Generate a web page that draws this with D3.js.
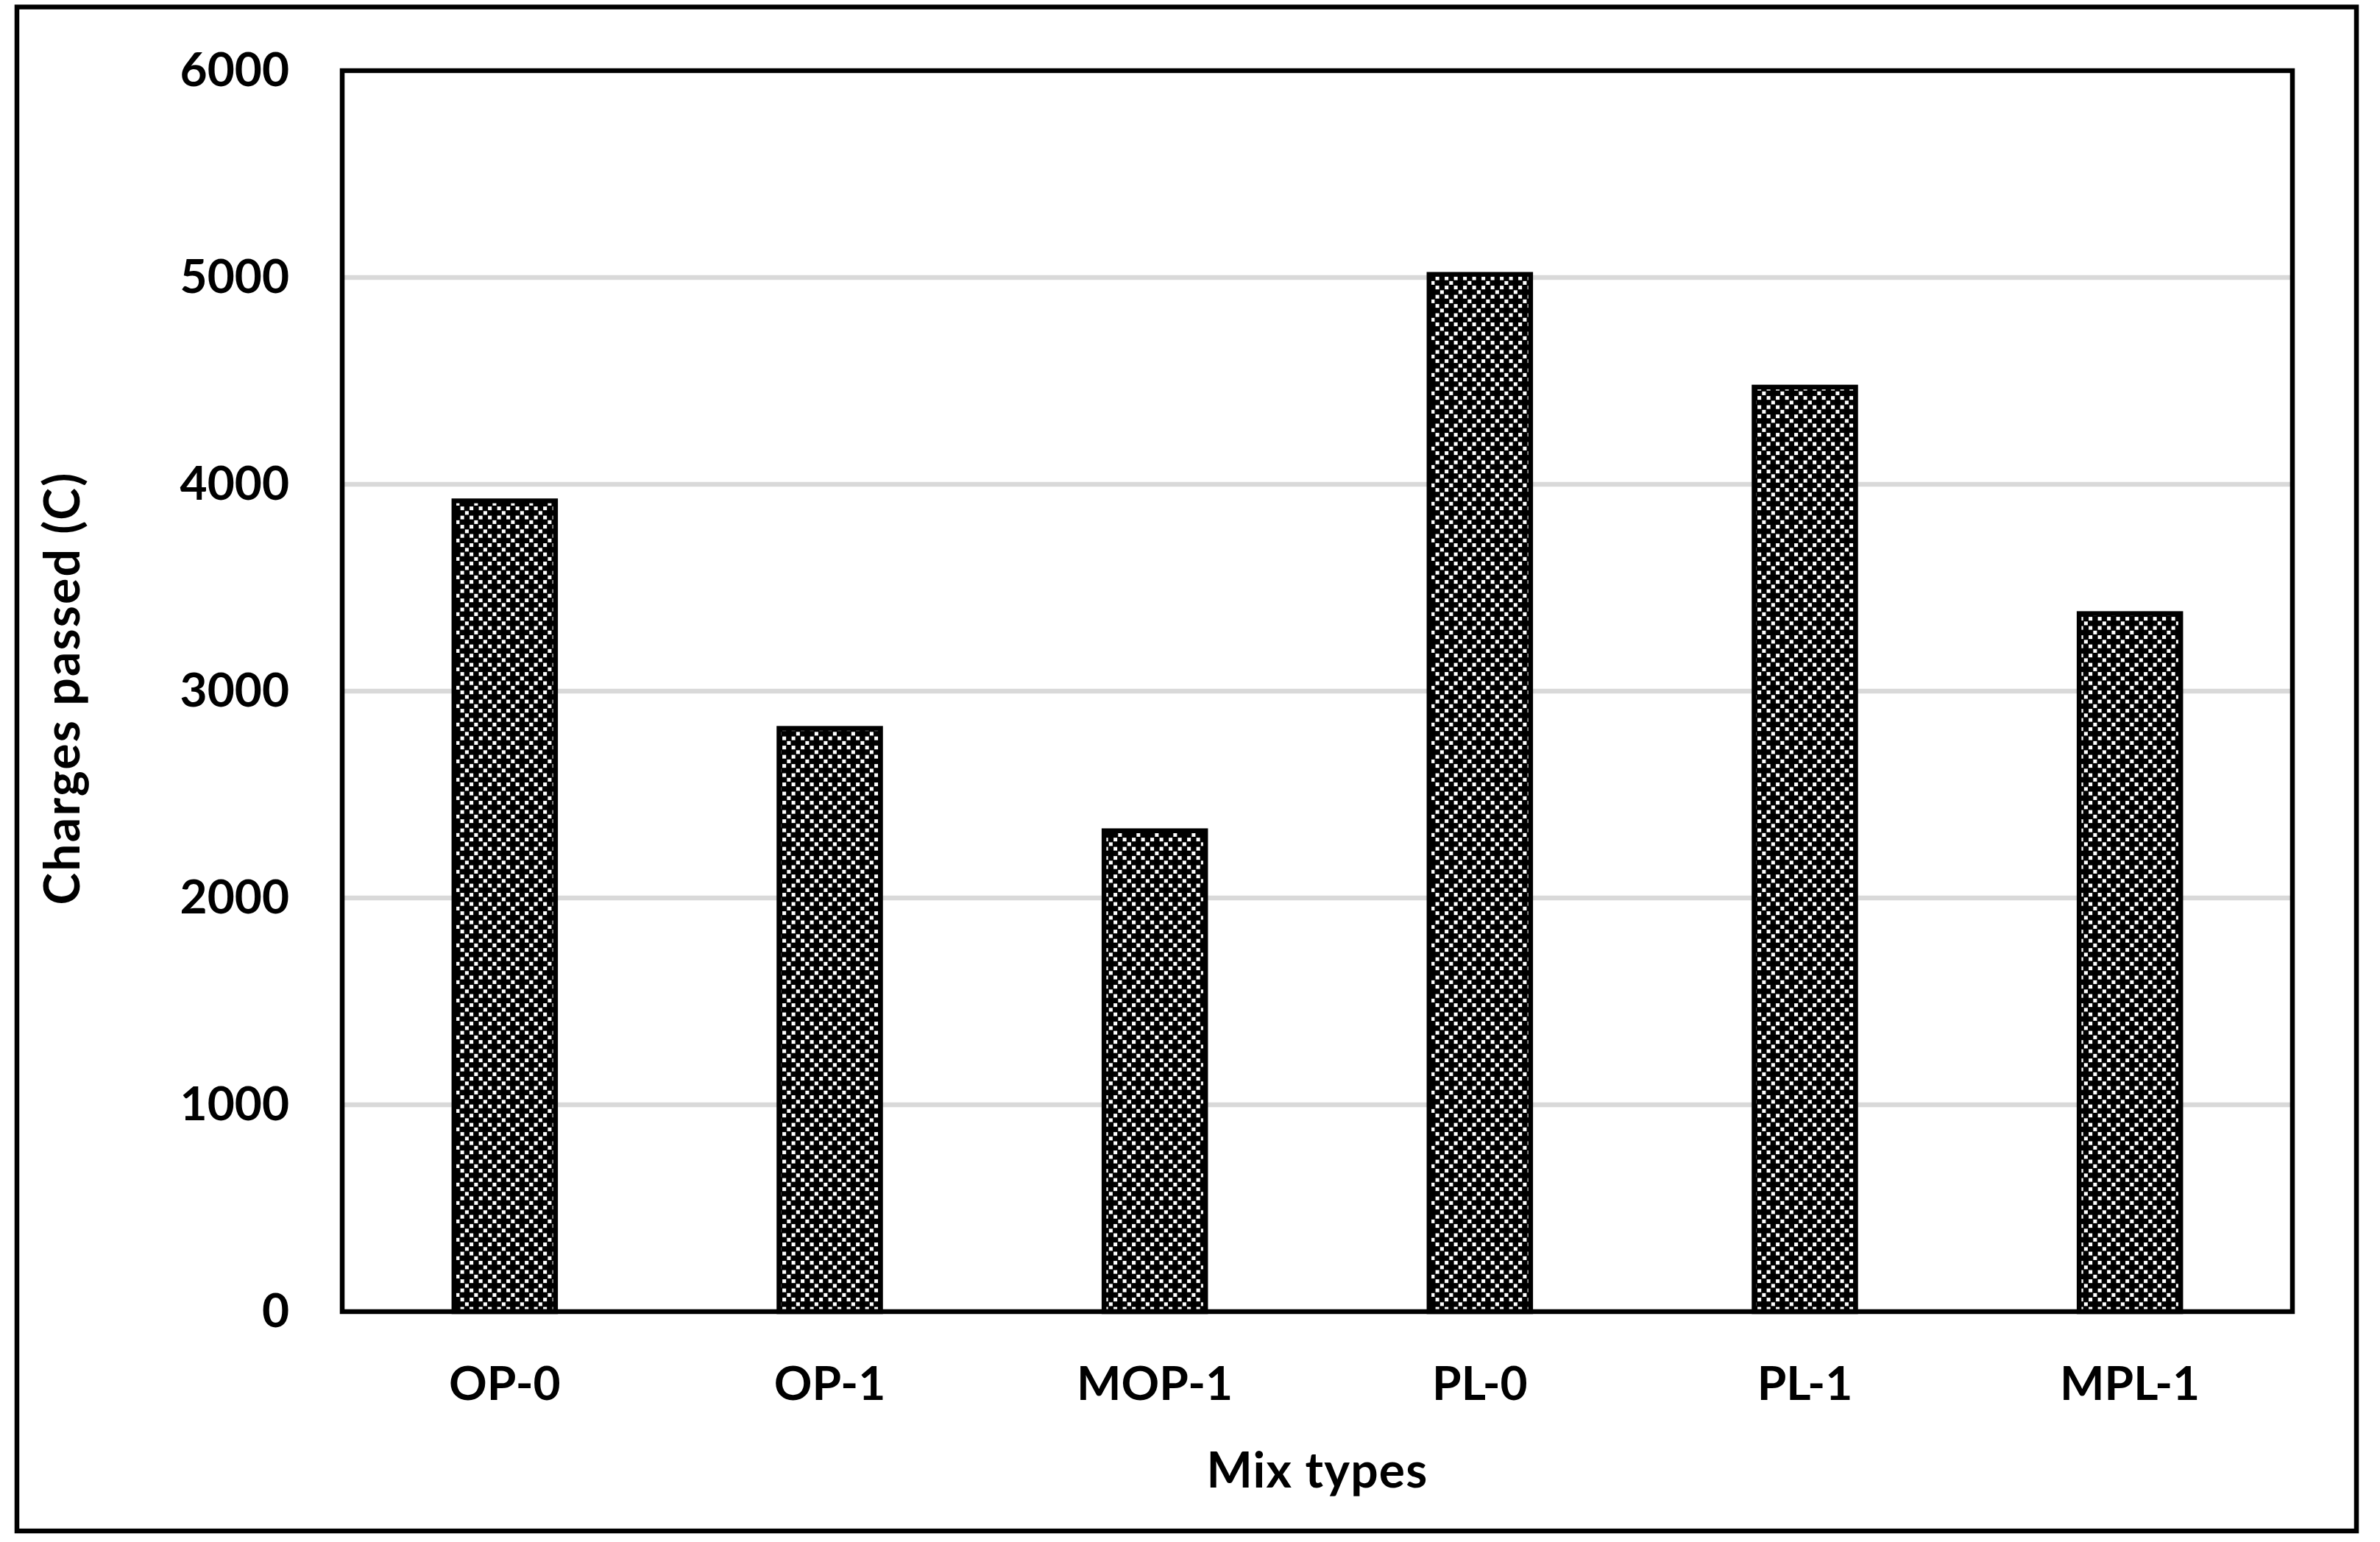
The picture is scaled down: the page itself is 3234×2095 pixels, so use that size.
<!DOCTYPE html>
<html>
<head>
<meta charset="utf-8">
<script src="https://cdn.jsdelivr.net/npm/d3@7"></script>
<style>
  html, body { margin: 0; padding: 0; background: #fff; }
  svg { display: block; }
  text { font-family: Lato, "Open Sans", sans-serif; font-weight: bold; fill: #000; }
</style>
</head>
<body>
<script>
const categories = ["OP-0", "OP-1", "MOP-1", "PL-0", "PL-1", "MPL-1"];
const values = [3920, 2820, 2325, 5015, 4470, 3375];
const yTicks = [0, 1000, 2000, 3000, 4000, 5000, 6000];
const xTitle = "Mix types";
const yTitle = "Charges passed (C)";

const W = 3234, H = 2095;
const plot = { left: 465, top: 96, right: 3115, bottom: 1782 };

const svg = d3.select("body").append("svg").attr("width", W).attr("height", H);
svg.append("rect").attr("width", W).attr("height", H).attr("fill", "#fff");

// pattern
const defs = svg.append("defs");
const u = 6.25;
const pat = defs.append("pattern").attr("id", "dots")
  .attr("patternUnits", "userSpaceOnUse").attr("width", 4 * u).attr("height", 4 * u);
pat.append("rect").attr("width", 4 * u).attr("height", 4 * u).attr("fill", "#000");
[[0,0],[2,0],[0,2],[2,2],[1,3],[3,1]].forEach(([i, j]) => {
  pat.append("rect").attr("x", i * u + 0.6).attr("y", j * u + 0.6)
    .attr("width", u - 1.2).attr("height", u - 1.2).attr("fill", "#fff");
});

// outer border
svg.append("rect").attr("x", 23).attr("y", 9.5).attr("width", 3202 - 23).attr("height", 2080 - 9.5)
  .attr("fill", "none").attr("stroke", "#000").attr("stroke-width", 6.5);

const x = d3.scaleBand().domain(categories).range([plot.left, plot.right]).padding(0);
const y = d3.scaleLinear().domain([0, 6000]).range([plot.bottom, plot.top]);

// gridlines
svg.append("g").selectAll("line").data(yTicks.filter(t => t > 0 && t < 6000)).join("line")
  .attr("x1", plot.left).attr("x2", plot.right)
  .attr("y1", d => y(d)).attr("y2", d => y(d))
  .attr("stroke", "#d9d9d9").attr("stroke-width", 6.5);

// bars
const bw = x.bandwidth() * 0.3125;
svg.append("g").selectAll("rect").data(categories).join("rect")
  .attr("x", (d) => x(d) + x.bandwidth() / 2 - bw / 2)
  .attr("y", (d, i) => y(values[i]))
  .attr("width", bw)
  .attr("height", (d, i) => y(0) - y(values[i]))
  .attr("fill", "url(#dots)")
  .attr("stroke", "#000").attr("stroke-width", 6.5);

// plot border
svg.append("rect").attr("x", plot.left).attr("y", plot.top)
  .attr("width", plot.right - plot.left).attr("height", plot.bottom - plot.top)
  .attr("fill", "none").attr("stroke", "#000").attr("stroke-width", 6.5);

// y axis labels
const yAxis = d3.axisLeft(y).tickValues(yTicks).tickSize(0).tickPadding(72).tickFormat(d3.format("d"));
const gy = svg.append("g").attr("transform", `translate(${plot.left},0)`).call(yAxis);
gy.select(".domain").remove();
gy.selectAll("text").attr("font-size", 64).attr("font-family", "Lato, sans-serif").attr("font-weight", "bold").attr("fill", "#000");

// x axis labels
const xAxis = d3.axisBottom(x).tickSize(0).tickPadding(0);
const gx = svg.append("g").attr("transform", `translate(0,${plot.bottom})`).call(xAxis);
gx.select(".domain").remove();
gx.selectAll("text").attr("font-size", 64).attr("font-family", "Lato, sans-serif").attr("font-weight", "bold")
  .attr("fill", "#000").attr("dy", null).attr("y", 120);

// titles
svg.append("text").attr("x", (plot.left + plot.right) / 2).attr("y", 2021)
  .attr("text-anchor", "middle").attr("font-size", 66).attr("letter-spacing", 1.2).text(xTitle);
svg.append("text").attr("transform", `translate(108,${(plot.top + plot.bottom) / 2 - 4}) rotate(-90)`)
  .attr("text-anchor", "middle").attr("font-size", 66).attr("letter-spacing", 2.2).text(yTitle);
</script>
</body>
</html>
